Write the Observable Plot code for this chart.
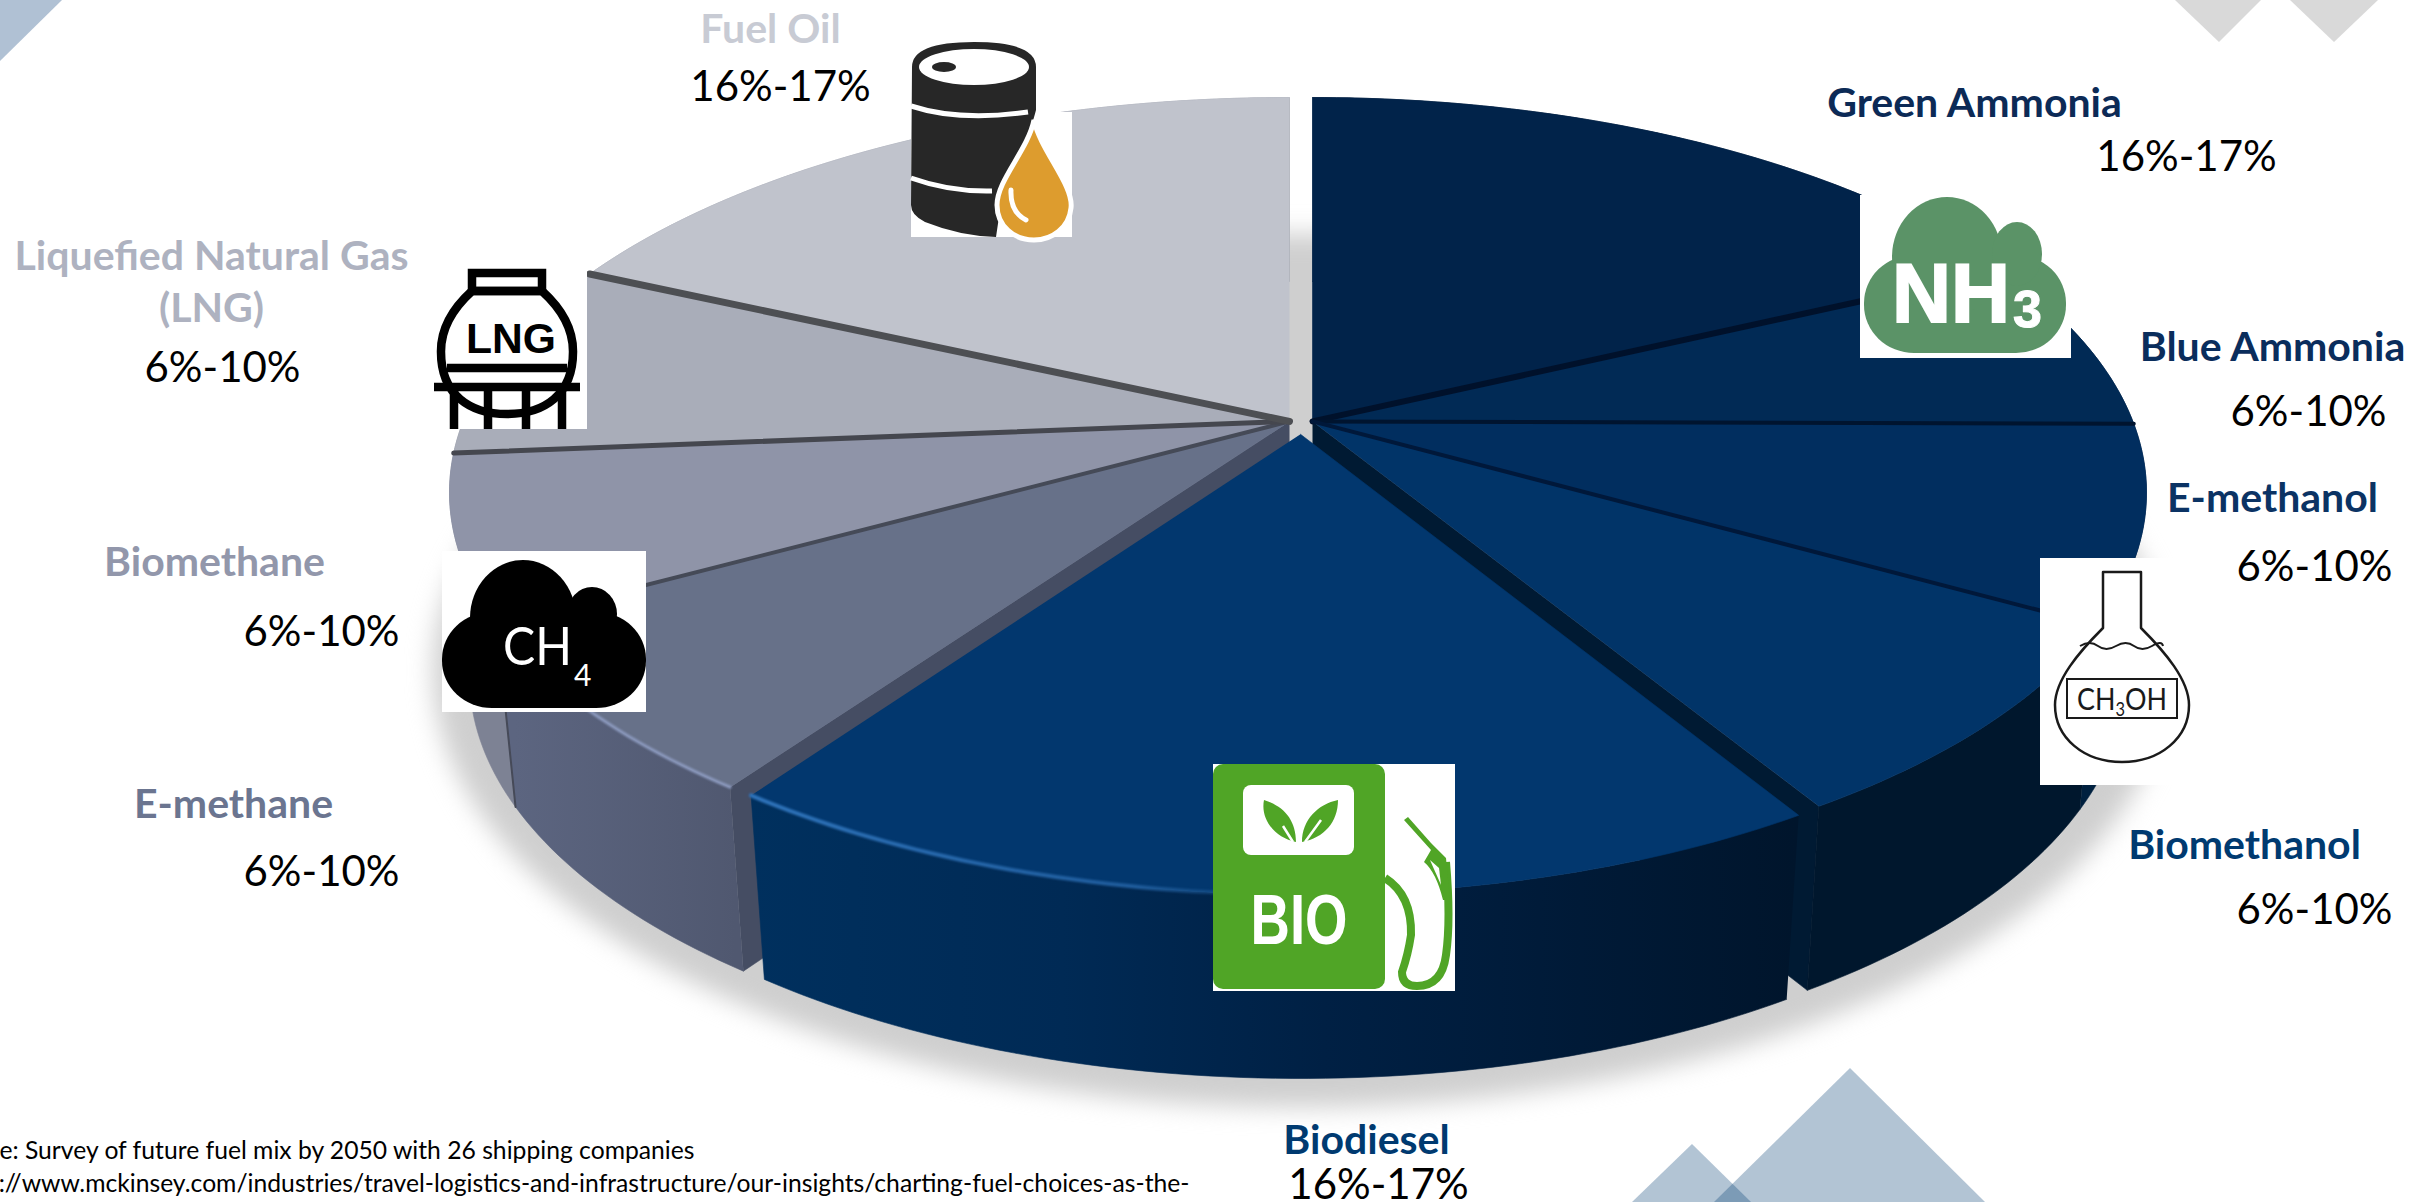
<!DOCTYPE html>
<html>
<head>
<meta charset="utf-8">
<script src="https://cdn.jsdelivr.net/npm/d3@7"></script>
<script src="https://cdn.jsdelivr.net/npm/@observablehq/plot@0.6"></script>
<style>html,body{margin:0;padding:0;background:#fff;overflow:hidden}svg{display:block}</style>
</head>
<body>
<div id="chart"></div>
<script>
// ---- data (clockwise from the top) ----
const fuels  = ["Green Ammonia","Blue Ammonia","E-methanol","Biomethanol","Biodiesel","E-methane","Biomethane","Liquefied Natural Gas\n(LNG)","Fuel Oil"];
const ranges = ["16%-17%","6%-10%","6%-10%","6%-10%","16%-17%","6%-10%","6%-10%","6%-10%","16%-17%"];
const shares = [18.0,7.1,8.0,8.15,18.55,7.2,6.7,8.1,18.2];
const topColors  = ["#01234a","#012a55","#012e5f","#013468","#02376e","#677189","#8f94a8","#a9adb9","#c0c3cc"];
const sideColors = ["#001a38","#001f42","#00203f","#00172d","url(#bioSide)","url(#emSide)","#7d8294","#8a8e9c","#9a9da8"];
const nameColors = ["#0c2a56","#0a2d5c","#0b3364","#003a70","#003a70","#6b7590","#9297ab","#aeb2c0","#c8cbd4"];
// slice separators: colour and width
const sepColors = ["#00112b","#00142f","#00183a",null,null,"#454a57","#45474f","#4d4f53",null];
const sepWidths = [6,4,4,0,0,4,5,7,0];
// label layout
const nameX  = [1974,2272,2272,2244,1366,233,214,211,770];
const nameY  = [100,344,495,842,1137,801,559,279,26];
const rangeX = [2186,2308,2314,2314,1378,321,321,222,780];
const rangeY = [157,412,567,910,1185,872,632,368,87];
const source = ["Source: Survey of future fuel mix by 2050 with 26 shipping companies",
                "https://www.mckinsey.com/industries/travel-logistics-and-infrastructure/our-insights/charting-fuel-choices-as-the-"];

// ---- perspective model of the pie ----
const W = 2433, H = 1202;
const C = {cx:1300, cy:492, depth:184, persp:0.18};
const group = i => i < 4 ? {ox:12, oy:0, rx:834, rxb:815, ry:395} : i === 4 ? {ox:0, oy:12, rx:825, rxb:805, ry:390} : {ox:-11, oy:0, rx:840, rxb:820, ry:395};
const s2 = Math.sqrt(1 - C.persp * C.persp);
function uv(deg, r = 1) {
  const t = deg * Math.PI / 180, a = r * Math.sin(t), b = -r * Math.cos(t), k = 1 - C.persp * b;
  return {u: a * s2 / k, v: (b - C.persp) / k};
}
const topPt = (i, deg, r) => { const o = group(i), p = uv(deg, r); return {x: C.cx + o.ox + o.rx * p.u, y: C.cy + o.oy + o.ry * p.v}; };
const botPt = (i, deg, r) => { const o = group(i), p = uv(deg, r); return {x: C.cx + o.ox + o.rxb * p.u, y: C.cy + o.oy + C.depth + o.ry * p.v}; };
let acc = 0;
const total = d3.sum(shares);
const slices = shares.map((s, i) => { const a0 = acc / total * 360; acc += s; return {i, a0, a1: acc / total * 360}; });
// the pulled-out Biodiesel slice sits slightly inside its neighbours
const bio = {i: 4, a0: slices[4].a0 + 0.2, a1: slices[4].a1};
const arc = (f, i, a0, a1) => d3.range(0, 1.0001, 1 / Math.max(2, Math.ceil(Math.abs(a1 - a0)))).map(q => f(i, a0 + (a1 - a0) * q));
const topPoly  = s => [topPt(s.i, 0, 0), ...arc(topPt, s.i, s.a0, s.a1)];
const sidePoly = s => [...arc(topPt, s.i, s.a0, s.a1), ...arc(botPt, s.i, s.a0, s.a1).reverse()];
const wallPoly = (i, a) => [topPt(i, a, 0), topPt(i, a), botPt(i, a), botPt(i, a, 0)];
const filled = (pts, fill, extra = {}) => Plot.line(pts, {x: "x", y: "y", fill, stroke: fill, strokeWidth: 0.6, curve: "linear", ...extra});

// ---- ornaments and icons ----
const defs = () => {
  const g = d3.create("svg:defs");
  g.html(`
  <linearGradient id="bioSide" gradientUnits="userSpaceOnUse" x1="749" x2="1795" y1="0" y2="0">
    <stop offset="0" stop-color="#00305e"/><stop offset=".3" stop-color="#002a55"/><stop offset=".55" stop-color="#002044"/><stop offset="1" stop-color="#00152c"/></linearGradient>
  <linearGradient id="emSide" gradientUnits="userSpaceOnUse" x1="515" x2="735" y1="0" y2="0">
    <stop offset="0" stop-color="#5c6580"/><stop offset="1" stop-color="#505870"/></linearGradient>
  <linearGradient id="bioRim" gradientUnits="userSpaceOnUse" x1="749" x2="1300" y1="0" y2="0">
    <stop offset="0" stop-color="#2f74bb"/><stop offset=".7" stop-color="#1f5c9c"/><stop offset="1" stop-color="#1c568f" stop-opacity="0"/></linearGradient>`);
  return g.node();
};
const ornaments = () => {
  const g = d3.create("svg:g");
  g.html(`
  <polygon points="0,0 62,0 0,61" fill="#b0c1d4"/>
  <polygon points="2175,0 2219,42 2261,0" fill="#d9d9d9"/><polygon points="2290,0 2334,42 2378,0" fill="#d9d9d9"/>
  <polygon points="1850,1068 1714,1202 1985,1202" fill="#003a70" fill-opacity=".3"/>
  <polygon points="1692,1144 1632,1202 1751,1202" fill="#003a70" fill-opacity=".3"/>`);
  return g.node();
};
const icons = () => {
  const g = d3.create("svg:g").attr("text-anchor", "start");
  g.html(`
  <!-- barrel -->
  <rect x="911" y="112" width="161" height="125" fill="#fff"/>
  <path d="M912 67 Q912 42 974 42 Q1036 42 1036 67 L1036 110 Q1034 118 1030 130 L1003 190 L996 237 Q960 236 925 222 Q911 215 911 205 Z" fill="#272727"/>
  <ellipse cx="974" cy="67" rx="55" ry="18" fill="#fff"/><ellipse cx="944" cy="67" rx="12" ry="5" fill="#272727"/>
  <path d="M911 106 Q960 122 1028 112" fill="none" stroke="#fff" stroke-width="5"/>
  <path d="M911 178 Q950 192 992 191" fill="none" stroke="#fff" stroke-width="5"/>
  <path d="M1034 120 C1040 150 1074 185 1071 208 C1069 228 1052 240 1034 240 C1014 240 997 226 997 205 C997 180 1028 150 1034 120Z" fill="#dd9c2e" stroke="#fff" stroke-width="5"/>
  <path d="M1011 190 Q1010 212 1026 220" fill="none" stroke="#fff" stroke-width="5" stroke-linecap="round"/>
  <!-- LNG tank -->
  <rect x="434" y="267" width="153" height="162" fill="#fff"/>
  <g fill="none" stroke="#000" stroke-width="8.5">
    <rect x="472" y="273" width="70" height="18"/>
    <path d="M472 291 C440 320 441 345 441 352 C441 395 470 414 507 414 C544 414 573 395 573 352 C573 345 574 320 542 291 Z"/>
    <path d="M447 368 H567M434 387 H580M454 387 V429M488 387 V429M526 387 V429M562 387 V429"/>
  </g>
  <text x="511" y="353" text-anchor="middle" font-family="Liberation Sans" font-weight="700" font-size="42" fill="#000" textLength="90" lengthAdjust="spacingAndGlyphs">LNG</text>
  <!-- NH3 -->
  <rect x="1860" y="195" width="211" height="163" fill="#fff"/>
  <g fill="#5b9367"><rect x="1864" y="255" width="202" height="98" rx="50" ry="48"/><ellipse cx="1947" cy="257" rx="55" ry="60"/><ellipse cx="2017" cy="254" rx="25" ry="32"/></g>
  <text x="1892" y="322" text-anchor="start" font-family="Liberation Sans" font-weight="700" font-size="84" fill="#fff" stroke="#fff" stroke-width="2" textLength="118" lengthAdjust="spacingAndGlyphs">NH</text>
  <text x="2013" y="327" text-anchor="start" font-family="Liberation Sans" font-weight="700" font-size="52" fill="#fff" stroke="#fff" stroke-width="1">3</text>
  <!-- flask -->
  <rect x="2040" y="558" width="166" height="227" fill="#fff"/>
  <path d="M2103 572 H2141 V628 C2165 652 2189 680 2189 705 C2189 738 2160 762 2122 762 C2084 762 2055 738 2055 705 C2055 680 2079 652 2103 628 Z" fill="#fff" stroke="#1a1a1a" stroke-width="2.5" stroke-linejoin="round"/>
  <path d="M2080 646 Q2090 640 2098 646 T2116 646 T2134 646 T2152 646 T2163 646" fill="none" stroke="#1a1a1a" stroke-width="2"/>
  <rect x="2067" y="679" width="110" height="39" fill="#fff" stroke="#1a1a1a" stroke-width="2"/>
  <text x="2122" y="710" text-anchor="middle" font-family="Lato" font-size="31" fill="#1a1a1a" textLength="90" lengthAdjust="spacingAndGlyphs">CH<tspan font-size="19" dy="6">3</tspan><tspan dy="-6">OH</tspan></text>
  <!-- CH4 -->
  <rect x="442" y="551" width="204" height="161" fill="#fff"/>
  <g fill="#000"><rect x="442" y="612" width="204" height="96" rx="50" ry="47"/><ellipse cx="523" cy="618" rx="53" ry="58"/><ellipse cx="592" cy="614" rx="25" ry="27"/></g>
  <text x="503" y="665" text-anchor="start" font-family="Lato" font-size="53" fill="#fff" textLength="69" lengthAdjust="spacingAndGlyphs">CH</text>
  <text x="574" y="686" text-anchor="start" font-family="Lato" font-size="30" fill="#fff">4</text>
  <!-- biodiesel pump -->
  <rect x="1213" y="764" width="242" height="227" fill="#fff"/>
  <rect x="1213" y="764" width="172" height="225" rx="10" fill="#50a526"/>
  <rect x="1243" y="785" width="111" height="70" rx="8" fill="#fff"/>
  <path d="M1296 842 C1276 838 1260 820 1264 800 C1284 806 1296 820 1296 842Z M1302 842 C1302 820 1318 804 1338 800 C1338 822 1324 838 1302 842Z" fill="#50a526"/>
  <path d="M1283 826 L1293 842 M1321 820 L1305 842" stroke="#fff" stroke-width="2.5" fill="none"/>
  <text x="1299" y="944" text-anchor="middle" font-family="Liberation Sans" font-weight="700" font-size="70" fill="#fff" textLength="97" lengthAdjust="spacingAndGlyphs">BIO</text>
  <path d="M1385 878 Q1412 895 1411 935 Q1408 955 1402 972 Q1402 986 1417 986 Q1442 986 1446 955 Q1451 920 1446 862" fill="none" stroke="#50a526" stroke-width="8"/>
  <path d="M1404 820 L1408 817 L1431 843 L1446 858 L1450 900 L1443 900 Q1436 872 1424 862 L1431 850 Z" fill="#50a526"/>
  <path d="M1430 860 L1439 868 L1441 885 Z" fill="#fff"/>`);
  return g.node();
};

// ---- marks ----
const sideOrder = [8,0,7,1,6,2];
const marks = [
  defs,
  ornaments,
  // soft shadow under the pie
  Plot.line(d3.range(0, 361, 3).map(a => ({x: C.cx + 868 * Math.sin(a * Math.PI / 180), y: 670 - 437 * Math.cos(a * Math.PI / 180)})),
    {x: "x", y: "y", fill: "#cfcfcf", stroke: "none", curve: "linear", imageFilter: "blur(12px)"}),
  ...sideOrder.map(i => filled(sidePoly(slices[i]), sideColors[i])),
  filled(wallPoly(5, slices[5].a0), "#454d63"),
  filled(wallPoly(3, slices[3].a1), "#001a33"),
  filled(sidePoly(slices[5]), sideColors[5]),
  filled(sidePoly(slices[3]), sideColors[3]),
  // thin wall-edge between E-methane and Biomethane sides
  Plot.line([topPt(5, slices[5].a1), botPt(5, slices[5].a1)], {x: "x", y: "y", stroke: "#464a58", strokeWidth: 2}),
  filled(sidePoly(bio), sideColors[4]),
  ...[0,1,2,3,5,6,7,8].map(i => filled(topPoly(slices[i]), topColors[i])),
  filled(topPoly(bio), topColors[4]),
  // separators between slices
  ...sepColors.flatMap((c, i) => c === null ? [] : [
    Plot.line([topPt(i, slices[i].a1, 0), topPt(i, slices[i].a1)], {x: "x", y: "y", stroke: c, strokeWidth: sepWidths[i]})
  ]),
  // lit rims
  Plot.line(arc(topPt, 4, bio.a1, bio.a1 - 36), {x: "x", y: "y", stroke: "url(#bioRim)", strokeWidth: 4, curve: "linear", imageFilter: "blur(1px)"}),
  Plot.line(arc(topPt, 5, slices[5].a0, slices[5].a1), {x: "x", y: "y", stroke: "#8d9bc0", strokeWidth: 3, curve: "linear", imageFilter: "blur(1px)"}),
  icons,
  Plot.text(fuels.map((name, i) => ({name, x: nameX[i], y: nameY[i], c: nameColors[i]})), {
    x: "x", y: "y", text: "name", fill: "c", fontFamily: "Lato", fontWeight: 700, fontSize: 41, lineHeight: 1.27, textAnchor: "middle", lineAnchor: "middle"}),
  Plot.text(ranges.map((r, i) => ({r, x: rangeX[i], y: rangeY[i]})), {
    x: "x", y: "y", text: "r", fill: "#000", fontFamily: "Lato", fontSize: 42, textAnchor: "middle", lineAnchor: "middle"}),
  Plot.text([{t: source[0], x: 694, y: 1151}, {t: source[1], x: 1189, y: 1184}], {
    x: "x", y: "y", text: "t", fill: "#000", fontFamily: "Lato", fontSize: 24.7, textAnchor: "end", lineAnchor: "middle"})
];

const chart = Plot.plot({
  width: W, height: H, margin: 0,
  x: {domain: [0, W], axis: null},
  y: {domain: [H, 0], axis: null},
  color: {type: "identity"},
  style: {background: "#fff"},
  marks
});
document.getElementById("chart").append(chart);
</script>
</body>
</html>
